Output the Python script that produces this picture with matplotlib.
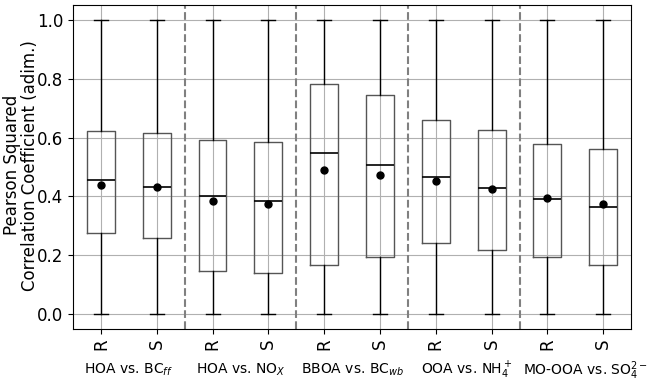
import matplotlib
matplotlib.use('Agg')
import matplotlib.pyplot as plt

# statistics: R / S for each pair
labels = ['R', 'S'] * 5
groups = ['HOA vs. BC$_{ff}$', 'HOA vs. NO$_X$', 'BBOA vs. BC$_{wb}$',
          'OOA vs. NH$_4^+$', 'MO-OOA vs. SO$_4^{2-}$']
q1 = [0.275, 0.258, 0.147, 0.140, 0.167, 0.194, 0.242, 0.218, 0.194, 0.167]
med = [0.455, 0.433, 0.403, 0.386, 0.549, 0.507, 0.467, 0.430, 0.390, 0.363]
q3 = [0.622, 0.615, 0.592, 0.585, 0.780, 0.743, 0.659, 0.625, 0.578, 0.561]
mean = [0.440, 0.432, 0.383, 0.376, 0.490, 0.474, 0.453, 0.426, 0.393, 0.376]
wmin = [0.0] * 10
wmax = [1.0] * 10

stats = []
for i in range(len(labels)):
    stats.append(dict(label=labels[i], whislo=wmin[i], q1=q1[i], med=med[i],
                      q3=q3[i], whishi=wmax[i], mean=mean[i], fliers=[]))

fig = plt.figure(figsize=(6.54, 3.81), dpi=100)
ax = fig.add_axes([0.1116, 0.1365, 0.8535, 0.8505])

ax.bxp(stats, positions=range(1, 11), widths=0.5, showmeans=True,
       boxprops=dict(color='#555555', linewidth=1.0),
       whiskerprops=dict(color='black', linewidth=1.0),
       capprops=dict(color='black', linewidth=1.0),
       medianprops=dict(color='black', linewidth=1.2),
       meanprops=dict(marker='o', markerfacecolor='black', markeredgecolor='black', markersize=5))

for x in [2.5, 4.5, 6.5, 8.5]:
    ax.axvline(x, color='grey', linestyle='--', linewidth=1.5)

ax.grid(True, color='#b0b0b0', linewidth=0.8)
ax.set_axisbelow(True)
ax.set_xlim(0.5, 10.5)
ax.set_ylim(-0.05, 1.05)
ax.set_xticks(range(1, 11))
ax.set_xticklabels(labels, rotation=90, fontsize=12)
ax.tick_params(axis='y', labelsize=12)
ax.set_ylabel('Pearson Squared\nCorrelation Coefficient (adim.)', fontsize=12, linespacing=1.0)
ax.yaxis.set_label_coords(-0.061, 0.505)

# group labels sit slightly right of the pair centre in the original
shift = [0.0, 0.0, 0.0, 0.06, 0.18]
for i, g in enumerate(groups):
    ax.text(2 * i + 1.5 + shift[i], -0.19, g, ha='center', va='center', fontsize=10)

fig.savefig('out.png')
